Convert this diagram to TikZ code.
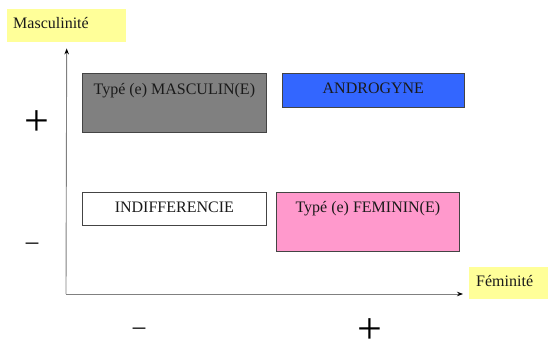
\documentclass[tikz,border=0pt]{standalone}
\usepackage{fontspec}
\setmainfont{Liberation Serif}
\usetikzlibrary{arrows.meta}
\definecolor{lblyellow}{HTML}{FFFF99}
\definecolor{boxgray}{HTML}{808080}
\definecolor{boxblue}{HTML}{3366FF}
\definecolor{boxpink}{HTML}{FF99CC}
\definecolor{edgegray}{HTML}{444444}
\definecolor{axisgray}{HTML}{808080}
\definecolor{txt}{HTML}{1A1A1A}
\tikzset{
  lbl/.style={fill=lblyellow, draw=none, anchor=north west, inner sep=0pt},
  lbltext/.style={anchor=base west, inner sep=0pt, text=txt, font=\fontsize{16}{18}\selectfont},
  catbox/.style={draw=edgegray, line width=0.7pt, anchor=north west, inner sep=0pt},
  cattext/.style={anchor=base, inner sep=0pt, text=txt, font=\fontsize{16}{18}\selectfont},
  sign/.style={inner sep=0pt, text=black, font=\fontsize{44}{46}\selectfont},
  minussign/.style={inner sep=0pt, text=black, font=\fontsize{25}{27}\selectfont},
  axis/.style={draw=axisgray, line width=0.9pt, -{Stealth[length=6pt,width=4.5pt,black]}}
}
\begin{document}
\begin{tikzpicture}[x=1pt,y=-1pt]
\useasboundingbox (0,0) rectangle (548,340);
% axis labels
\node[lbl, minimum width=119pt, minimum height=33pt] (masc) at (7,9) {};
\node[lbltext] (masct) at (13,28) {Masculinité};
\node[lbl, minimum width=79pt, minimum height=32pt] (fem) at (469,267) {};
\node[lbltext] (femt) at (476,286) {Féminité};
% axes
\coordinate (o) at (66,294);
\draw[axis, shorten >=6pt] (o) -- (masc.south);
\draw[axis, shorten >=6pt] (o) -- (fem.west |- o);
% category boxes
\node[catbox, fill=boxgray, minimum width=184pt, minimum height=59pt] (m) at (82,73) {};
\node[cattext] (mt) at (m.north |- 0,94) {Typé (e) MASCULIN(E)};
\node[catbox, fill=boxblue, minimum width=182pt, minimum height=34pt] (a) at (282,73) {};
\node[cattext] (at) at (a.north |- 0,93) {ANDROGYNE};
\node[catbox, fill=white, minimum width=184pt, minimum height=33pt] (i) at (82,192) {};
\node[cattext] (it) at (i.north |- 0,212) {INDIFFERENCIE};
\node[catbox, fill=boxpink, minimum width=183pt, minimum height=59pt] (f) at (276,192) {};
\node[cattext] (ft) at (f.north |- 0,212) {Typé (e) FEMININ(E)};
% signs
\node[sign] (p1) at (36.5,123) {+};
\node[minussign, anchor=base] (m1) at (32,249) {–};
\node[minussign, anchor=base] (m2) at (139,334) {–};
\node[sign] (p2) at (370,331) {+};
\end{tikzpicture}
\end{document}
